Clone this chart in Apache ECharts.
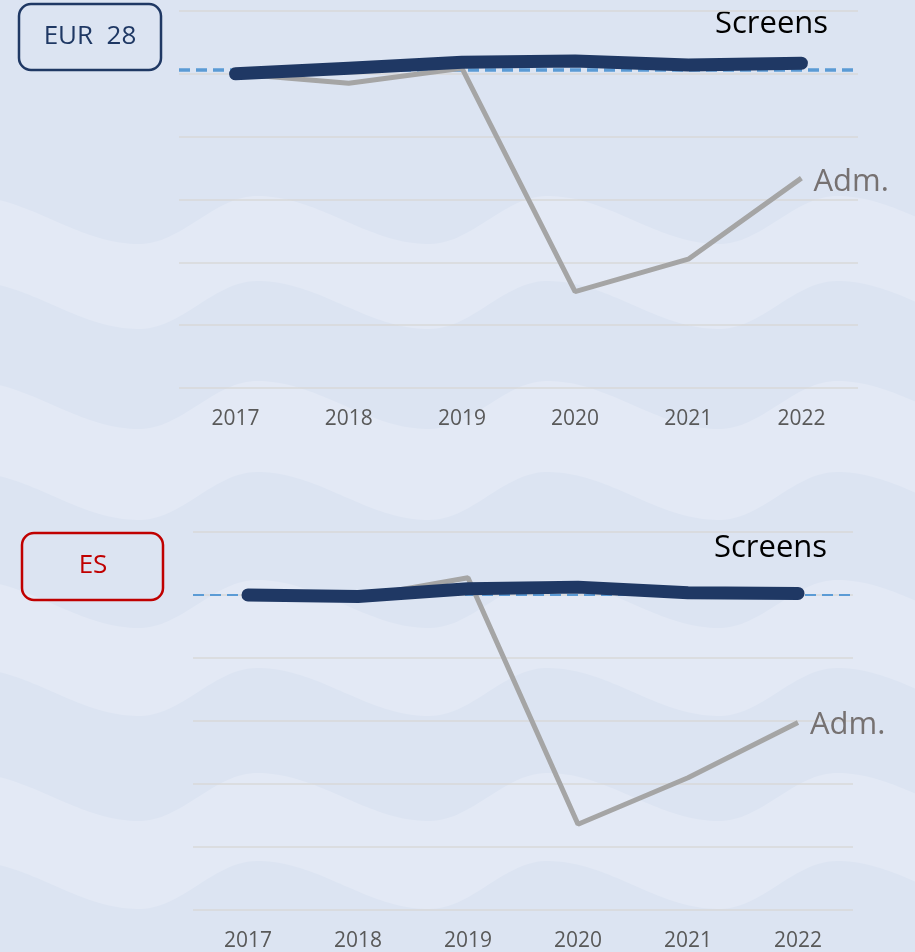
<!DOCTYPE html>
<html>
<head>
<meta charset="utf-8">
<script src="https://cdn.jsdelivr.net/npm/echarts@6/dist/echarts.min.js"></script>
<style>
  html, body { margin: 0; background: #dce4f2; }
  #chart { width: 915px; height: 952px; }
</style>
</head>
<body>
<div id="chart"></div>
<script>
// data (index, 2017 = 100)
const years = ['2017', '2018', '2019', '2020', '2021', '2022']
const eurScreens = [100, 101.8, 103.7, 104.1, 102.8, 103.4]
const eurAdm = [100, 97.0, 101.8, 30.7, 41.0, 66.8]
const eurRef = 101.2
const esScreens = [100, 99.5, 102.0, 102.5, 100.7, 100.5]
const esAdm = [100, 99.3, 105.5, 27.2, 42.0, 59.5]
const esRef = 100

const navy = '#1f3864'
const grey = '#a5a5a5'
const font = 'Open Sans'

// wavy background bands (decoration only)
const waveY = (x, mid) => {
  const amp = 24
  const t = (((x - 257) % 290) + 290) % 290
  if (t < 172) return mid - amp * Math.cos(Math.PI * t / 172)
  return mid + amp * Math.cos(Math.PI * (t - 172) / 118)
}
const band = (top, bottom) => {
  const pts = []
  for (let x = -10; x <= 925; x += 4) pts.push([x, waveY(x, top)])
  for (let x = 925; x >= -10; x -= 4) pts.push([x, waveY(x, bottom)])
  return {
    type: 'polygon',
    silent: true,
    z: -10,
    shape: { points: pts },
    style: { fill: '#e3e9f5' }
  }
}
const bands = [[220, 305], [405, 496], [604, 692], [797, 885]].map(b => band(b[0], b[1]))

const xAxisOf = (gridIndex) => ({
  type: 'category',
  gridIndex,
  data: years,
  axisLine: { show: false },
  axisTick: { show: false },
  axisLabel: { color: '#595959', fontSize: 21, fontFamily: font, margin: 21 }
})
const yAxisOf = (gridIndex) => ({
  type: 'value',
  gridIndex,
  min: 0,
  max: 120,
  interval: 20,
  axisLabel: { show: false },
  axisLine: { show: false },
  axisTick: { show: false },
  splitLine: { lineStyle: { color: '#d9d9d9', width: 1.5 } }
})

const admSeries = (idx, data, ref, refWidth, labelShift) => ({
  type: 'line',
  xAxisIndex: idx,
  yAxisIndex: idx,
  data,
  symbol: 'none',
  z: 2,
  lineStyle: { color: grey, width: 5 },
  endLabel: {
    show: true,
    formatter: 'Adm.',
    color: '#767171',
    fontSize: 31,
    fontFamily: font,
    distance: 12,
    offset: [0, labelShift]
  },
  markLine: {
    silent: true,
    z: 2,
    symbol: 'none',
    label: { show: false },
    lineStyle: { color: '#5b9bd5', width: refWidth, type: [11, 6] },
    data: [{ yAxis: ref }]
  }
})
const screenSeries = (idx, data) => ({
  type: 'line',
  xAxisIndex: idx,
  yAxisIndex: idx,
  data,
  symbol: 'none',
  z: 4,
  lineStyle: { color: navy, width: 13, cap: 'round', join: 'round' }
})

const option = {
  animation: false,
  backgroundColor: 'transparent',
  grid: [
    { left: 179, top: 11, width: 679, height: 377 },
    { left: 193, top: 532, width: 660, height: 378 }
  ],
  xAxis: [xAxisOf(0), xAxisOf(1)],
  yAxis: [yAxisOf(0), yAxisOf(1)],
  graphic: [
    ...bands,
    {
      type: 'rect',
      shape: { x: 19, y: 4, width: 142, height: 66, r: 12 },
      style: { fill: 'none', stroke: navy, lineWidth: 2.5 }
    },
    {
      type: 'text',
      x: 90, y: 37,
      style: { text: 'EUR  28', fill: navy, font: '26px "Open Sans"', align: 'center', verticalAlign: 'middle' }
    },
    {
      type: 'rect',
      shape: { x: 22, y: 533, width: 141, height: 67, r: 12 },
      style: { fill: 'none', stroke: '#c00000', lineWidth: 2.5 }
    },
    {
      type: 'text',
      x: 93, y: 566,
      style: { text: 'ES', fill: '#c00000', font: '26px "Open Sans"', align: 'center', verticalAlign: 'middle' }
    },
    {
      type: 'text',
      x: 715, y: 24,
      style: { text: 'Screens', fill: '#000', font: '31px "Open Sans"', align: 'left', verticalAlign: 'middle' }
    },
    {
      type: 'text',
      x: 714, y: 548,
      style: { text: 'Screens', fill: '#000', font: '31px "Open Sans"', align: 'left', verticalAlign: 'middle' }
    }
  ],
  series: [
    admSeries(0, eurAdm, eurRef, 3.5, 4),
    screenSeries(0, eurScreens),
    admSeries(1, esAdm, esRef, 2, 3),
    screenSeries(1, esScreens)
  ]
}

const myChart = echarts.init(document.getElementById('chart'))
option && myChart.setOption(option)
</script>
</body>
</html>
